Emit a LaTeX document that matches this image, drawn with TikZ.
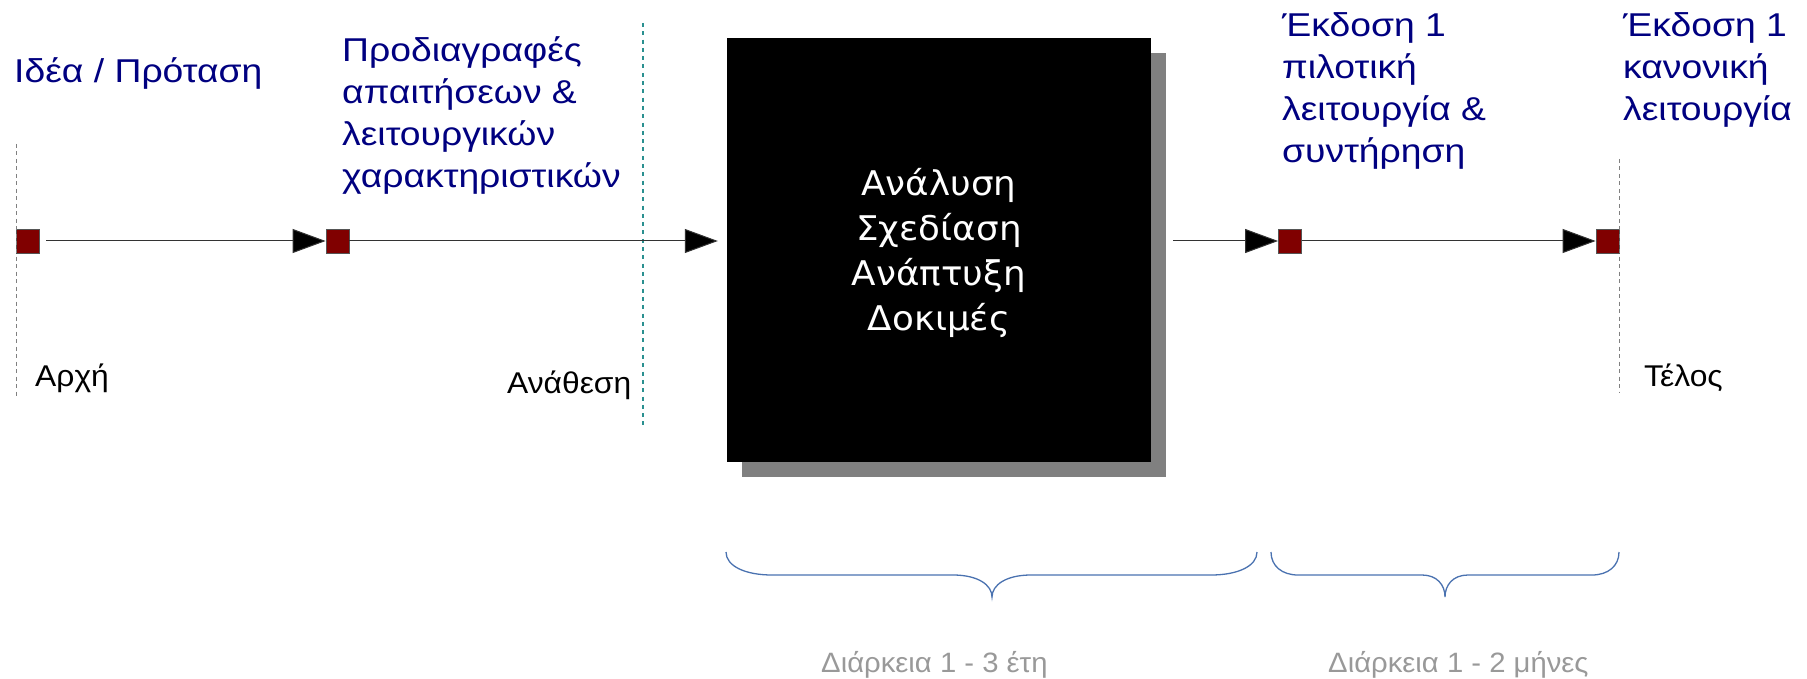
\documentclass[tikz,border=0pt]{standalone}
\usepackage{fontspec}
\setmainfont{Liberation Sans}
\newfontfamily\bluefont[FakeStretch=1.13]{Liberation Sans}
\newfontfamily\blackfont[FakeStretch=1.06]{Liberation Sans}
\newfontfamily\boxfont[FakeStretch=1.05]{DejaVu Sans}
\newfontfamily\grayfont[FakeStretch=1.045]{Liberation Sans}
\usetikzlibrary{arrows.meta,shadows}
\definecolor{navytext}{HTML}{000080}
\definecolor{mred}{HTML}{800000}
\definecolor{mborder}{HTML}{555555}
\definecolor{lineclr}{HTML}{333333}
\definecolor{guidegray}{HTML}{808080}
\definecolor{guideteal}{HTML}{2A9090}
\definecolor{shadowgray}{HTML}{808080}
\definecolor{graytext}{HTML}{999999}
\definecolor{braceclr}{HTML}{4A72B0}
\tikzset{
  milestone/.style={rectangle, fill=mred, draw=mborder, line width=0.8pt, minimum width=23pt, minimum height=24pt, inner sep=0pt},
  conn/.style={draw=lineclr, line width=1pt, -{Triangle[length=33pt,width=24pt,fill=black]}},
  bluelabel/.style={text=navytext, font=\bluefont\fontsize{33}{42}\selectfont, align=left, anchor=base west, inner sep=0pt},
  blacklabel/.style={font=\blackfont\fontsize{30}{34}\selectfont, anchor=base west, inner sep=0pt},
  graylabel/.style={text=graytext, font=\grayfont\fontsize{28}{32}\selectfont, anchor=base west, inner sep=0pt},
  guide/.style={draw=guidegray, line width=1pt, dash pattern=on 4pt off 3.5pt},
  tealguide/.style={draw=guideteal, line width=1.2pt, dash pattern=on 4pt off 4.3pt},
  bracepath/.style={draw=braceclr, line width=1.3pt},
  phasebox/.style={fill=black, minimum width=424pt, minimum height=424pt, inner sep=0pt, general shadow={fill=shadowgray, shadow xshift=15pt, shadow yshift=-15pt}}
}
\begin{document}
\begin{tikzpicture}[x=1pt,y=-1pt]
\useasboundingbox (0,0) rectangle (1807,679);
% phase box
\node[phasebox] (box) at (939,250) {};
\node[text=white, align=center, font=\boxfont\fontsize{34}{45}\selectfont, inner sep=0pt] (boxtext) at (939,253) {Ανάλυση\\Σχεδίαση\\Ανάπτυξη\\Δοκιμές};
% milestones
\node[milestone] (m1) at (27.5,241) {};
\node[milestone] (m2) at (337.5,241) {};
\node[milestone] (m3) at (1290,241) {};
\node[milestone] (m4) at (1607.5,241) {};
% guides
\coordinate (g1a) at (16,144); \coordinate (g1b) at (16,398);
\coordinate (g2a) at (643,23); \coordinate (g2b) at (643,426);
\coordinate (g3a) at (1619,159); \coordinate (g3b) at (1619,392);
\draw[guide] (g1a) -- (g1b);
\draw[tealguide] (g2a) -- (g2b);
\draw[guide] (g3a) -- (g3b);
% connectors
\draw[conn, shorten <=7pt] (m1.east) -- (m2.west);
\draw[conn, shorten >=9pt] (m2.east) -- (m2.east -| box.west);
\draw[conn, shorten <=22pt] (m3.west -| box.east) -- (m3.west);
\draw[conn] (m3.east) -- (m4.west);
% labels
\node[bluelabel] (t1) at (14,83) {Ιδέα / Πρόταση};
\node[bluelabel] (t2) at (342,188) {Προδιαγραφές\\απαιτήσεων \&\\λειτουργικών\\χαρακτηριστικών};
\node[bluelabel] (t3) at (1282,163) {Έκδοση 1\\πιλοτική\\λειτουργία \&\\συντήρηση};
\node[bluelabel] (t4) at (1623,121) {Έκδοση 1\\κανονική\\λειτουργία};
\node[blacklabel] (l1) at (35,386) {Αρχή};
\node[blacklabel] (l2) at (507,393) {Ανάθεση};
\node[blacklabel] (l3) at (1644,386) {Τέλος};
% braces
\draw[bracepath] (726,552) .. controls (726,566) and (745,575) .. (772,575) -- (953,575) .. controls (978,575) and (992,585) .. (992,597) .. controls (992,585) and (1006,575) .. (1031,575) -- (1211,575) .. controls (1238,575) and (1257,566) .. (1257,552);
\draw[bracepath] (1271,552) .. controls (1271,566) and (1282,575) .. (1298,575) -- (1422,575) .. controls (1437,575) and (1445,585) .. (1445,597) .. controls (1445,585) and (1453,575) .. (1468,575) -- (1592,575) .. controls (1608,575) and (1619,566) .. (1619,552);
\node[graylabel] (d1) at (821,672) {Διάρκεια 1 - 3 έτη};
\node[graylabel] (d2) at (1328,672) {Διάρκεια 1 - 2 μήνες};
\end{tikzpicture}
\end{document}
